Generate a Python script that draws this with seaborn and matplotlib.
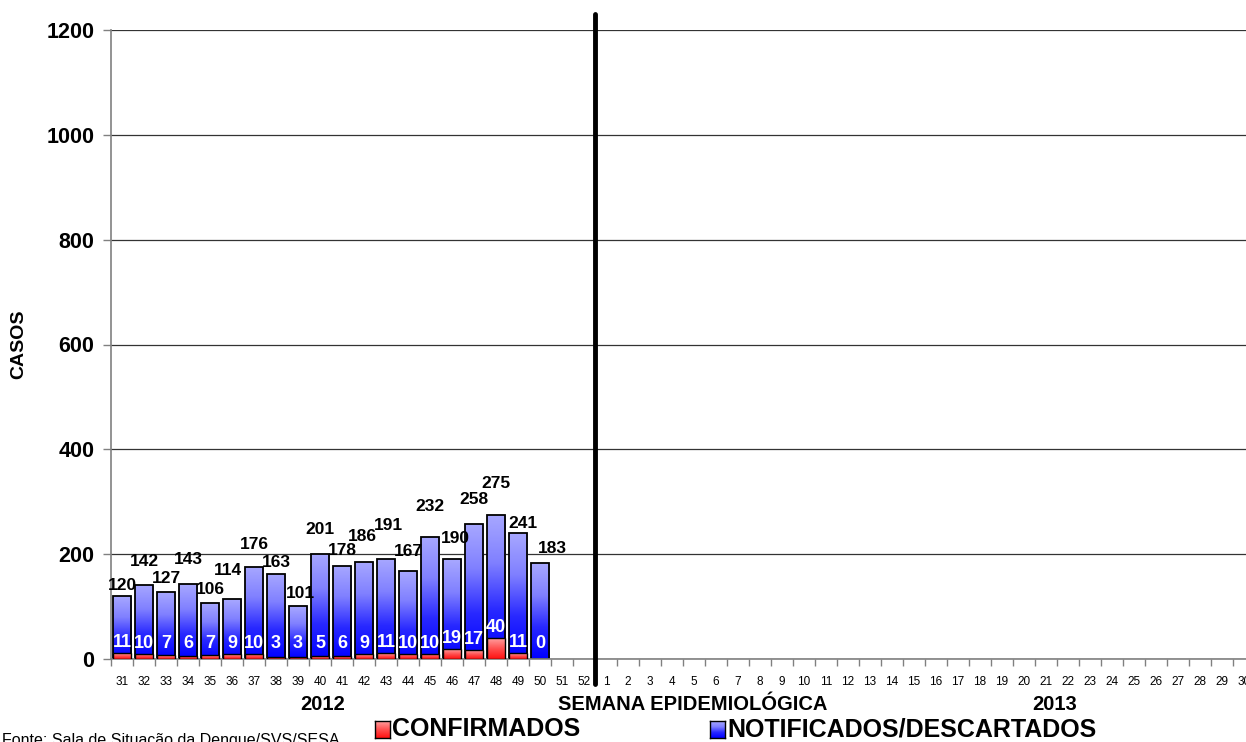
import numpy as np
import pandas as pd
import seaborn as sns
import matplotlib.pyplot as plt
from matplotlib.colors import LinearSegmentedColormap

# semanas epidemiologicas: 31-52 de 2012 e 1-30 de 2013
semanas_2012 = [str(s) for s in range(31, 53)]
semanas_2013 = [str(s) for s in range(1, 31)]
semanas = semanas_2012 + semanas_2013

# dados disponiveis (semanas 31 a 50 de 2012)
semanas_dados = [str(s) for s in range(31, 51)]
total = [120, 142, 127, 143, 106, 114, 176, 163, 101, 201,
         178, 186, 191, 167, 232, 190, 258, 275, 241, 183]
confirmados = [11, 10, 7, 6, 7, 9, 10, 3, 3, 5,
               6, 9, 11, 10, 10, 19, 17, 40, 11, 0]

# deslocamento dos rotulos do total (pixels), como no Excel
desl_y = [11, 23, 14, 25, 14, 29, 22, 11, 13, 24,
          15, 25, 33, 20, 31, 21, 24, 31, 9, 15]
desl_x = [0, 0, 0, 0, 0, -4, 0, 0, 2, 0,
          0, -2, 2, 0, 0, 3, 0, 0, 5, 12]

df = pd.DataFrame({'semana': semanas_dados, 'total': total, 'confirmados': confirmados})

sns.set_style('white')
plt.rcParams['font.family'] = ['Liberation Sans', 'DejaVu Sans']
plt.rcParams['text.color'] = 'black'
plt.rcParams['xtick.color'] = 'black'
plt.rcParams['ytick.color'] = 'black'

W, H = 1246, 742
fig = plt.figure(figsize=(W / 100, H / 100), dpi=100)
ax = fig.add_axes([111 / W, 83 / H, 22.0 * 52 / W, 629 / H])
px = 1200 / 629.0  # unidades de dado por pixel

cmap_azul = LinearSegmentedColormap.from_list('azul', ['#0000ff', '#2828ff', '#8080ff', '#a8a8ff'])
cmap_verm = LinearSegmentedColormap.from_list('verm', ['#ff1010', '#ff5050', '#ffa0a0'])

sns.barplot(data=df, x='semana', y='total', order=semanas, color='#6060ff',
            width=0.85, edgecolor='black', linewidth=1.3, ax=ax)
n_azul = len(ax.patches)
sns.barplot(data=df, x='semana', y='confirmados', order=semanas, color='#ff6060',
            width=0.85, edgecolor='black', linewidth=1.0, ax=ax)

# gradiente dentro das barras
grad = np.linspace(0, 1, 256).reshape(-1, 1)
for k, p in enumerate(list(ax.patches)):
    h = p.get_height()
    if not np.isfinite(h) or h <= 0:
        continue
    azul = k < n_azul
    x0, y0 = p.get_x(), p.get_y()
    im = ax.imshow(grad, extent=[x0, x0 + p.get_width(), y0, y0 + h], origin='lower',
                   aspect='auto', cmap=cmap_azul if azul else cmap_verm,
                   zorder=1 if azul else 3, interpolation='bilinear')
    im.set_clip_path(p)
    p.set_facecolor('none')
    p.set_zorder(2 if azul else 4)

ax.set_xlim(-0.5, 51.5)
ax.set_ylim(0, 1200)

# rotulos
for i, (t, c) in enumerate(zip(total, confirmados)):
    ax.text(i + desl_x[i] / 22.0, t + desl_y[i] * px, str(t), ha='center', va='center',
            fontsize=12.5, fontweight='bold', zorder=6)
    ax.text(i, max(30, c + 20), str(c), ha='center', va='center', fontsize=13,
            fontweight='bold', color='white', zorder=6)

# eixo y
ax.set_yticks(range(0, 1201, 200))
ax.yaxis.grid(True, color='#333333', linewidth=0.9)
ax.set_axisbelow(True)
ax.tick_params(axis='y', labelsize=15.5, length=6, width=1, color='#808080', pad=6, left=True)
for lbl in ax.get_yticklabels():
    lbl.set_fontweight('bold')
ax.set_ylabel('')

# eixo x
ax.set_xlabel('')
ax.tick_params(axis='x', which='major', length=0, labelsize=8.5, pad=12)
ax.set_xticks(np.arange(-0.5, 52, 1), minor=True)
ax.tick_params(axis='x', which='minor', length=5, width=1, color='#808080', bottom=True)

for s in ['top', 'right']:
    ax.spines[s].set_visible(False)
for s in ['left', 'bottom']:
    ax.spines[s].set_color('#808080')
    ax.spines[s].set_linewidth(1.2)

# divisao entre 2012 e 2013
ax.axvline(21.5, ymin=-0.04, ymax=1.026, color='black', linewidth=3.5, clip_on=False, zorder=7)

fig.text(19 / W, 1 - 344 / H, 'CASOS', rotation=90, ha='center', va='center',
         fontsize=14, fontweight='bold')
fig.text(323 / W, 1 - 705 / H, '2012', ha='center', va='center', fontsize=14.5, fontweight='bold')
fig.text(693 / W, 1 - 705 / H, 'SEMANA EPIDEMIOLÓGICA', ha='center', va='center',
         fontsize=14.5, fontweight='bold')
fig.text(1055 / W, 1 - 705 / H, '2013', ha='center', va='center', fontsize=14.5, fontweight='bold')

# legenda
for x0, cmap, texto in [(375, cmap_verm, 'CONFIRMADOS'), (710, cmap_azul, 'NOTIFICADOS/DESCARTADOS')]:
    lax = fig.add_axes([x0 / W, 1 - 738 / H, 15 / W, 17 / H])
    lax.imshow(grad, origin='lower', aspect='auto', cmap=cmap)
    lax.set_xticks([])
    lax.set_yticks([])
    for s in lax.spines.values():
        s.set_color('black')
        s.set_linewidth(1)
    fig.text((x0 + 17) / W, 1 - 729.5 / H, texto, ha='left', va='center',
             fontsize=18, fontweight='bold')

fig.text(2 / W, 1 - 741 / H, 'Fonte: Sala de Situação da Dengue/SVS/SESA', ha='left',
         va='center', fontsize=11.5)

fig.savefig('out.png', dpi=100)
